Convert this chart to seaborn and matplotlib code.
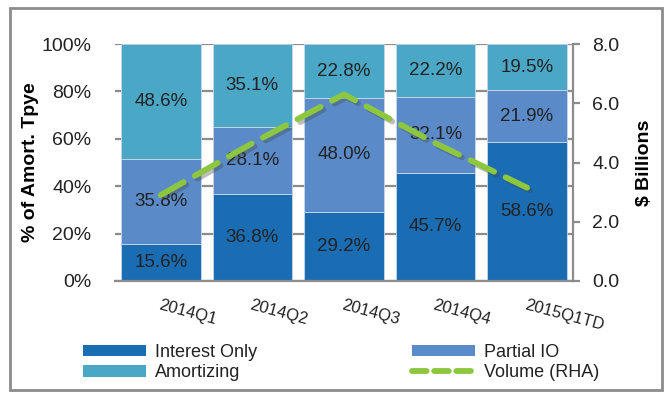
import numpy as np
import pandas as pd
import matplotlib
matplotlib.use("Agg")
import matplotlib.pyplot as plt
import matplotlib.patheffects as pe
from matplotlib.patches import Rectangle
from matplotlib.lines import Line2D
from matplotlib.patches import Patch
import seaborn as sns

categories = ["2014Q1", "2014Q2", "2014Q3", "2014Q4", "2015Q1TD"]
interest_only = [15.6, 36.8, 29.2, 45.7, 58.6]
partial_io = [35.8, 28.1, 48.0, 32.1, 21.9]
amortizing = [48.6, 35.1, 22.8, 22.2, 19.5]
volume = [2.9, 4.65, 6.3, 4.65, 3.15]

c_io = "#1a6db3"
c_pio = "#5a8bc8"
c_am = "#4aa8c6"
c_vol = "#8dc63f"
grid_c = "#8c8c8c"
txt_c = "#222222"

sns.set_theme(style="white")
plt.rcParams["font.family"] = ["Liberation Sans", "DejaVu Sans"]

df = pd.DataFrame({"cat": categories, "io": interest_only,
                   "pio": partial_io, "am": amortizing, "vol": volume})
bottom_pio = df["io"].to_numpy()
bottom_am = (df["io"] + df["pio"]).to_numpy()

fig = plt.figure(figsize=(6.7, 3.98), dpi=100)
ax = fig.add_axes([0.1716, 0.294, 0.855 - 0.1716, 0.8894 - 0.294])

w = 0.87
edge = dict(edgecolor="#c8d8ea", linewidth=0.6)
sns.barplot(data=df, x="cat", y="io", color=c_io, width=w, ax=ax,
            saturation=1, zorder=2, **edge)
sns.barplot(data=df, x="cat", y="pio", color=c_pio, width=w, ax=ax,
            bottom=bottom_pio, saturation=1, zorder=2, **edge)
sns.barplot(data=df, x="cat", y="am", color=c_am, width=w, ax=ax,
            bottom=bottom_am, saturation=1, zorder=2, **edge)

ax.set_xlim(-0.5, 4.5)
ax.set_ylim(0, 100)
ax.set_yticks([0, 20, 40, 60, 80, 100])
ax.set_yticklabels([f"{v}%" for v in [0, 20, 40, 60, 80, 100]],
                   fontsize=14, color=txt_c)
ax.yaxis.grid(True, color=grid_c, linewidth=1.6, zorder=0)
ax.set_axisbelow(True)
ax.tick_params(axis="y", length=0, pad=17)
ax.tick_params(axis="x", length=0, pad=12)
ax.set_xticks(range(len(categories)))
ax.set_xticklabels(categories, rotation=-15, ha="left",
                   rotation_mode="anchor", fontsize=12, color=txt_c)
for lab in ax.get_xticklabels():
    lab.set_verticalalignment("top")
for s in ["top", "left", "right"]:
    ax.spines[s].set_visible(False)
ax.spines["bottom"].set_color(grid_c)
ax.spines["bottom"].set_linewidth(1.6)
ax.set_xlabel("")
ax.set_ylabel("% of Amort. Tpye", fontsize=14, fontweight="bold",
              color="black", labelpad=2)

# segment labels
for i in range(len(categories)):
    segs = [(0, interest_only[i]),
            (bottom_pio[i], partial_io[i]),
            (bottom_am[i], amortizing[i])]
    for b, h in segs:
        ax.text(i, b + h / 2, f"{h:.1f}%", ha="center", va="center",
                fontsize=13.5, color=txt_c, zorder=5)

# right axis
ax2 = ax.twinx()
sns.lineplot(x=np.arange(len(categories)), y=df["vol"], ax=ax2,
             color=c_vol, linewidth=4.2, zorder=4, sort=False,
             path_effects=[pe.SimpleLineShadow(offset=(2, -2), alpha=0.35,
                                               shadow_color="#444444"),
                           pe.Normal()])
ln = ax2.get_lines()[0]
ln.set_dashes([4.5, 2.2])
ln.set_dash_capstyle("round")
ax2.set_ylim(0, 8)
ax2.set_yticks([0, 2, 4, 6, 8])
ax2.set_yticklabels([f"{v:.1f}" for v in [0, 2, 4, 6, 8]],
                    fontsize=14, color=txt_c)
ax2.tick_params(axis="y", which="both", right=True, length=5, width=1.6,
                color=grid_c, pad=9)
for s in ["top", "left", "bottom"]:
    ax2.spines[s].set_visible(False)
ax2.spines["right"].set_color(grid_c)
ax2.spines["right"].set_linewidth(1.6)
ax2.set_ylabel("$ Billions", fontsize=14, fontweight="bold",
               color="black", labelpad=12)
ax2.set_xlim(-0.5, 4.5)
ax2.grid(False)

# legend
handles = [Patch(facecolor=c_io, edgecolor="none", label="Interest Only"),
           Patch(facecolor=c_am, edgecolor="none", label="Amortizing"),
           Patch(facecolor=c_pio, edgecolor="none", label="Partial IO"),
           Line2D([0], [0], color=c_vol, linewidth=4.2, dashes=[2.5, 1.3],
                  dash_capstyle="round", label="Volume (RHA)")]
leg = fig.legend(handles=handles, ncol=2, loc="upper left",
                 bbox_to_anchor=(78 / 670 - 0.012, 1 - 331 / 398),
                 frameon=False, fontsize=13, handlelength=3.5,
                 handleheight=0.6, handletextpad=0.5, labelspacing=0.2,
                 columnspacing=8.6, borderpad=0.2)
for t in leg.get_texts():
    t.set_color(txt_c)

# outer frame
fig.patches.append(Rectangle((10 / 670, 1 - 390 / 398), 652 / 670, 382 / 398,
                             transform=fig.transFigure, fill=False,
                             edgecolor="#8c8c8c", linewidth=2, zorder=0))

fig.savefig("out.png", dpi=100)
